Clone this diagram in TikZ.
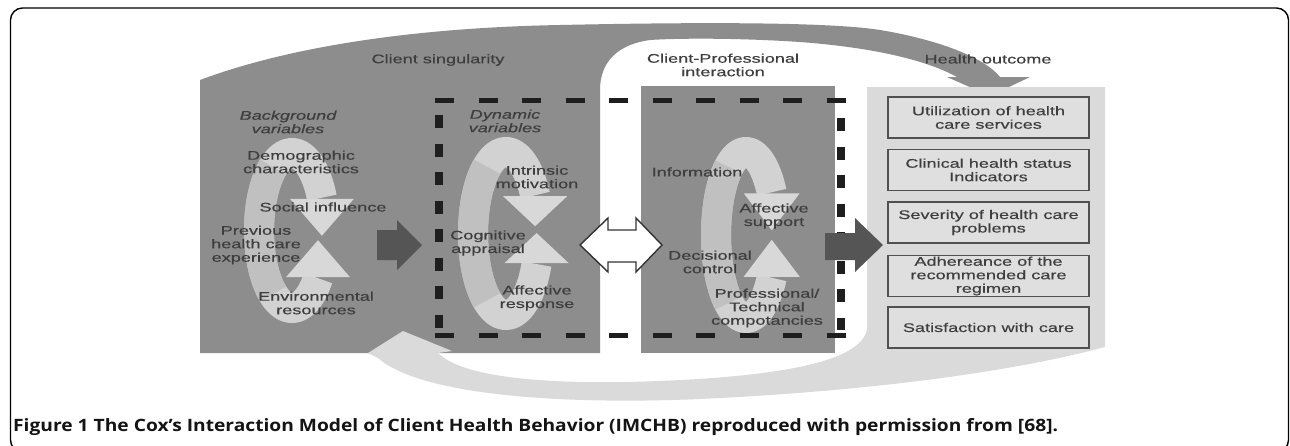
\documentclass[tikz,border=0pt]{standalone}
\usepackage{fontspec}
\newfontfamily\diag[FakeStretch=1.45,FakeBold=0.4]{Liberation Sans}
\newfontfamily\capfont[FakeStretch=1.13]{Open Sans}
\definecolor{panel}{RGB}{141,141,141}
\definecolor{darkarrow}{RGB}{85,85,85}
\definecolor{loopback}{RGB}{192,192,192}
\definecolor{looplight}{RGB}{210,210,210}
\definecolor{loophead}{RGB}{216,216,216}
\definecolor{hpanel}{RGB}{218,218,218}
\definecolor{boxfill}{RGB}{223,223,223}
\definecolor{boxline}{RGB}{80,80,80}
\definecolor{dashc}{RGB}{30,30,30}
\definecolor{txt}{RGB}{62,62,62}
\newcommand\cycleloop[9]{%
  % #1 cx, #2 cy, #3 rx, #4 ry, #5 top angle, #6 bottom angle, #7 head length, #8 half width, #9 band width
  \pgfmathsetmacro\lxa{#1+#3*cos(#5)}%
  \pgfmathsetmacro\lya{#2-#4*sin(#5)}%
  \pgfmathsetmacro\lxb{#1+#3*cos(#6)}%
  \pgfmathsetmacro\lyb{#2+#4*sin(#6)}%
  \draw[line width=#9, looplight] plot[domain=#5:360-#6, samples=80] ({#1+#3*cos(\x)},{#2-#4*sin(\x)});
  \draw[line width=#9, loopback] plot[domain=125:235, samples=40] ({#1+#3*cos(\x)},{#2-#4*sin(\x)});
  \fill[loophead] ({\lxa-#8},{\lya+1}) -- ({\lxa+#8},{\lya+1}) -- ({\lxa},{\lya+#7}) -- cycle;
  \fill[loophead] ({\lxb-#8},{\lyb-1}) -- ({\lxb+#8},{\lyb-1}) -- ({\lxb},{\lyb-#7}) -- cycle;
}
\begin{document}
\begin{tikzpicture}[x=1pt,y=-1pt,
  lbl/.style={align=center, inner sep=0pt, text=txt, font=\diag\fontsize{12.5}{13.5}\selectfont},
  ilbl/.style={lbl, font=\diag\itshape\fontsize{12.5}{13.5}\selectfont},
  obox/.style={lbl, draw=boxline, line width=1.4pt, fill=boxfill, minimum width=201pt, minimum height=41pt},
  hdash/.style={dashc, line width=5pt, dash pattern=on 19pt off 24.5pt},
  vdash/.style={dashc, line width=8pt, dash pattern=on 13pt off 15.5pt},
  bigarrow/.style={fill=darkarrow},
  dblarrow/.style={fill=white, draw=black!80, line width=1.4pt, line join=miter}
]
\useasboundingbox (0,0) rectangle (1290,445);
\clip (0,0) rectangle (1290,445);
\fill[white] (0,0) rectangle (1290,445);

% outer frame
\draw[line width=1.4pt, rounded corners=12pt] (10.5,8) rectangle (1288.5,452);

% dark grey: client singularity panel + top arc arrow to health outcome
\fill[panel] (200,353) -- (200,80) .. controls (280,50) and (400,28) .. (560,25)
  .. controls (700,22) and (830,22) .. (880,30)
  .. controls (940,40) and (985,58) .. (1000,77) -- (1030,77) -- (990,96) -- (947,77) -- (957,77)
  .. controls (930,62) and (880,48) .. (800,42)
  .. controls (740,38) and (680,38) .. (650,40)
  .. controls (620,44) and (600,60) .. (600,90) -- (600,353) -- cycle;

% client-professional interaction panel
\fill[panel] (641,86) rectangle (835,353);

% health outcome panel + feedback arc
\fill[hpanel] (867,87) -- (1105,87) -- (1105,347)
  .. controls (1000,375) and (850,392) .. (700,399)
  .. controls (560,405) and (420,395) .. (378,358)
  -- (368,353) -- (403,331) -- (452,351) -- (438,353)
  .. controls (470,385) and (600,386) .. (713,378)
  .. controls (790,372) and (860,360) .. (867,330) -- cycle;

% cycle loops
\cycleloop{292}{230.5}{33}{77.5}{25}{38}{38}{32}{30pt}
\cycleloop{506}{233.5}{33}{81.5}{28}{22}{31}{32}{30pt}
\cycleloop{746}{235}{30}{83}{31}{31}{38}{28}{30pt}

% dashed box
\draw[hdash] (435,100) -- (846,100);
\draw[hdash] (435,335) -- (846,335);
\draw[vdash] (439,115) -- (439,330);
\draw[vdash] (841,118) -- (841,330);

% dark arrows
\fill[bigarrow] (377,230) -- (397,230) -- (397,220) -- (422,245) -- (397,270) -- (397,260) -- (377,260) -- cycle;
\fill[bigarrow] (825,233) -- (855,233) -- (855,218) -- (883,245) -- (855,272) -- (855,260) -- (825,260) -- cycle;

% double arrow
\draw[dblarrow] (580,245) -- (608,218) -- (608,230) -- (636,230) -- (636,218) -- (662,245)
  -- (636,272) -- (636,262) -- (608,262) -- (608,272) -- cycle;

% headings
\node[lbl] (cs) at (438,60) {Client singularity};
\node[lbl] (cpi) at (723,65) {Client-Professional\\interaction};
\node[lbl] (ho) at (988,59) {Health outcome};

% background variables
\node[ilbl] (bv) at (288,122) {Background\\variables};
\node[lbl] (demo) at (301,162) {Demographic\\characteristics};
\node[lbl] (soc) at (323,207) {Social influence};
\node[lbl] (prev) at (256,245) {Previous\\health care\\experience};
\node[lbl] (env) at (316,303) {Environmental\\resources};

% dynamic variables
\node[ilbl] (dv) at (505,121) {Dynamic\\variables};
\node[lbl] (intr) at (537,177) {Intrinsic\\motivation};
\node[lbl] (cog) at (488,243) {Cognitive\\appraisal};
\node[lbl] (affr) at (537,298) {Affective\\response};

% interaction
\node[lbl] (info) at (697,172) {Information};
\node[lbl] (affs) at (774,216) {Affective\\support};
\node[lbl] (dec) at (710,262) {Decisional\\control};
\node[lbl] (prof) at (767,308) {Professional/\\Technical\\compotancies};

% outcomes
\node[obox] (o1) at (988.5,117.5) {Utilization of health\\care services};
\node[obox] (o2) at (988.5,170) {Clinical health status\\Indicators};
\node[obox] (o3) at (988.5,222.5) {Severity of health care\\problems};
\node[obox] (o4) at (988.5,276) {Adhereance of the\\recommended care\\regimen};
\node[obox] (o5) at (988.5,327.5) {Satisfaction with care};

% caption
\node[anchor=base west, inner sep=0pt, text=black!92, font=\capfont\bfseries\fontsize{17}{20}\selectfont] (cap) at (13,431)
  {Figure 1 The Cox’s Interaction Model of Client Health Behavior (IMCHB) reproduced with permission from [68].};
\end{tikzpicture}
\end{document}
